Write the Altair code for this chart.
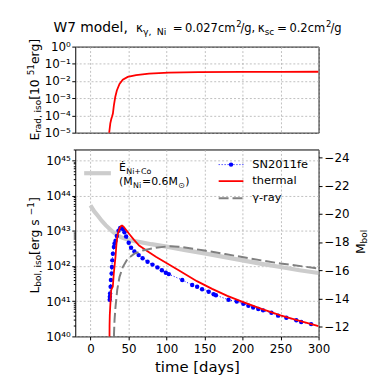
import altair as alt
import pandas as pd

FONT = "DejaVu Sans"

# ---------------- data ----------------
# top panel: radiated energy E_rad,iso [1e51 erg], log10 values
erad_t = [24.4, 24.8, 26.1, 27.4, 28.5, 29.5, 30.8, 32.6, 34.7, 38.2, 42.5, 49, 60, 77, 103, 142, 200, 250, 300]
erad_log = [-6.0, -4.94, -4.46, -4.21, -4.05, -3.89, -3.41, -2.93, -2.55, -2.17, -1.92, -1.76, -1.65, -1.57,
            -1.51, -1.48, -1.47, -1.465, -1.46]

# bottom panel: log10 L [erg/s]
therm_t = [24.9, 25.1, 25.4, 26.0, 27.3, 28.5, 29.4, 30.7, 32.9, 33.9, 34.6, 36.0, 38.0, 40.0, 41.5, 43.5, 47,
           51, 57, 64, 75, 86, 101, 116, 140, 160, 180, 200, 225, 250, 275, 300]
therm_log = [39.0, 40.3, 40.6, 40.85, 41.32, 41.38, 41.41, 41.79, 42.26, 42.54, 42.72, 42.91, 43.05, 43.13,
             43.15, 43.12, 43.02, 42.91, 42.75, 42.58, 42.42, 42.26, 42.07, 41.88, 41.57, 41.35, 41.15, 40.98,
             40.78, 40.60, 40.44, 40.29]

gam_t = [30.5, 31.0, 31.7, 33.0, 35.2, 38.2, 42.5, 49.0, 57.8, 68.6, 86, 103, 116, 150, 177, 208, 250, 300]
gam_log = [39.6, 40.1, 40.48, 40.85, 41.32, 41.69, 41.97, 42.21, 42.35, 42.44, 42.52, 42.56, 42.55, 42.44,
           42.34, 42.22, 42.07, 41.93]

nico_t = [0, 5, 10, 15, 20, 25, 30, 35, 40, 50, 60, 80, 100, 125, 150, 175, 200, 225, 250, 275, 300]
nico_log = [43.72, 43.55, 43.42, 43.28, 43.16, 43.06, 42.96, 42.88, 42.82, 42.74, 42.70, 42.62, 42.55, 42.45,
            42.36, 42.26, 42.16, 42.06, 41.97, 41.88, 41.80]

sn_t = [25.3, 25.5, 25.8, 26.5, 26.9, 27.8, 28.2, 28.7, 29.5, 30.8, 31.7, 33.0, 34.7, 36.9, 39.1, 41.2, 43.0,
        44.7, 46.9, 50.3, 53.4, 57.8, 63.4, 68.6, 75.1, 81.6, 88.1, 93.9, 99.1, 103.0, 120.7, 133.8, 140.3,
        146.8, 155.5, 162.0, 165.0, 181.6, 192.4, 201.0, 207.7, 214.0, 220.7, 227.0, 238.0, 246.8, 257.6,
        270.7, 277.2, 290.2]
sn_log = [41.04, 41.13, 41.22, 41.41, 41.60, 41.79, 41.97, 42.16, 42.35, 42.54, 42.64, 42.72, 42.85, 43.00,
          43.08, 43.08, 43.04, 42.96, 42.84, 42.66, 42.52, 42.41, 42.31, 42.22, 42.12, 42.04, 41.96, 41.88,
          41.81, 41.77, 41.60, 41.46, 41.41, 41.34, 41.27, 41.20, 41.17, 41.04, 40.99, 40.93, 40.87, 40.82,
          40.78, 40.74, 40.67, 40.59, 40.53, 40.46, 40.41, 40.35]

x_ticks = [0, 50, 100, 150, 200, 250, 300]
top_exps = [0, -1, -2, -3, -4, -5]
bot_exps = [40, 41, 42, 43, 44, 45]
mbol_ticks = [-24, -22, -20, -18, -16, -14, -12]

# ---------------- layout constants ----------------
PW, TH, BH = 246, 87, 189
X_DOM = [-20, 300]
LOG_TOP = 45.31
M_SUN, LOG_LSUN = 4.74, 33.585
M_TOP = M_SUN - 2.5 * (LOG_TOP - LOG_LSUN)
M_BOT = M_SUN - 2.5 * (40 - LOG_LSUN)

SUP = str.maketrans("0123456789-", "⁰¹²³⁴⁵⁶⁷⁸⁹⁻")


def pow_expr(exps):
    parts = [f"round(log(datum.value)/LN10)=={e} ? '10{str(e).translate(SUP)}'" for e in exps]
    return " : ".join(parts) + " : ''"


CW = {' ': 0.318, '.': 0.318, ',': 0.318, '=': 0.838, '/': 0.337, '[': 0.390, ']': 0.390, '(': 0.390,
      ')': 0.390, '+': 0.838, '−': 0.838, '-': 0.361, 'a': 0.613, 'b': 0.635, 'c': 0.550, 'd': 0.635,
      'e': 0.615, 'g': 0.635, 'i': 0.278, 'l': 0.278, 'm': 0.974, 'o': 0.612, 'r': 0.411, 's': 0.521,
      't': 0.392, 'y': 0.592, 'h': 0.634, 'f': 0.352, 'E': 0.632, 'Ė': 0.632, 'L': 0.557, 'M': 0.863,
      'N': 0.748, 'C': 0.698, 'W': 0.989, 'S': 0.635, 'κ': 0.59, 'γ': 0.59, '⊙': 0.84}
for _d in "0123456789":
    CW[_d] = 0.636


def tw(s, size):
    return size * sum(CW.get(c, 0.6) for c in s)


DUMMY = pd.DataFrame({"d": [0]})


def seg(text, x, y, size, angle=None, align="left", baseline="alphabetic", color="black"):
    kw = dict(text=text, fontSize=size, font=FONT, align=align, baseline=baseline, color=color)
    if angle is not None:
        kw["angle"] = angle
    return alt.Chart(DUMMY).mark_text(**kw).encode(x=alt.value(x), y=alt.value(y))


def vtitle(parts, base_x, center_y):
    total = sum(tw(t, s) for t, s, _ in parts)
    y = center_y + total / 2
    out = []
    for t, s, sh in parts:
        out.append(seg(t, base_x + sh, y, s, angle=270))
        y -= tw(t, s)
    return out


def hchain(parts, x, base_y):
    out = []
    for t, s, sh, gap in parts:
        x += gap
        out.append(seg(t, x, base_y + sh, s))
        x += tw(t, s)
    return out


# ---------------- top panel ----------------
df_erad = pd.DataFrame({"t": erad_t, "E": [10.0 ** v for v in erad_log]})

xs_top = alt.X("t:Q", scale=alt.Scale(domain=X_DOM, nice=False, zero=False),
               axis=alt.Axis(values=x_ticks, labels=False, ticks=False, domain=False, grid=True, title=None))
ys_top = alt.Y("E:Q", scale=alt.Scale(type="log", domain=[1e-5, 1.0], nice=False),
               axis=alt.Axis(values=[10.0 ** e for e in top_exps], labelExpr=pow_expr(top_exps), title=None,
                             grid=True, domain=False, labelOverlap=False, tickSize=3.5, labelPadding=1.5,
                             labelFontSize=12))

top_line = alt.Chart(df_erad).mark_line(color="#ff0000", strokeWidth=1.8, clip=True).encode(x=xs_top, y=ys_top)

OX, OYT, OYB = 75, 44, 148  # plot origins on the page (for text placement)

title_segs = [
    ("W7 model,", 53, 29.5, 14),
    ("κ", 136.5, 29.5, 12),
    ("γ,", 143.5, 32.5, 9.5),
    ("Ni", 157.5, 32.5, 9.5),
    ("=", 173.5, 29.5, 12),
    ("0.027cm", 186, 29.5, 11.6),
    ("2", 237.8, 24, 8.5),
    ("/g,", 242, 29.5, 11.6),
    ("κ", 259.5, 29.5, 12),
    ("sc", 266.5, 32.5, 9),
    ("=", 279, 29.5, 12),
    ("0.2cm", 291.5, 29.5, 11.6),
    ("2", 328.5, 24, 8.5),
    ("/g", 333, 29.5, 11.6),
]
title_layers = [seg(t, x - OX, y - OYT, s) for t, x, y, s in title_segs]

ytitle_top = vtitle([("E", 12.5, 0), ("rad, iso", 9, 2.5), (" [10", 12.5, 0), ("51", 9, -5), ("erg]", 12.5, 0)],
                    38.3 - OX, 87.5 - OYT)

top = alt.layer(top_line, *title_layers, *ytitle_top).properties(width=PW, height=TH)

# ---------------- bottom panel ----------------
df_therm = pd.DataFrame({"t": therm_t, "L": [10.0 ** v for v in therm_log]})
df_gam = pd.DataFrame({"t": gam_t, "L": [10.0 ** v for v in gam_log]})
df_nico = pd.DataFrame({"t": nico_t, "L": [10.0 ** v for v in nico_log]})
df_sn = pd.DataFrame({"t": sn_t, "L": [10.0 ** v for v in sn_log]})

L_DOM = [1e40, 10.0 ** LOG_TOP]
xb = alt.X("t:Q", scale=alt.Scale(domain=X_DOM, nice=False, zero=False),
           axis=alt.Axis(values=x_ticks, labelFlush=False, title="time [days]", titleFontSize=15,
                         titleFontWeight="normal", titlePadding=5, grid=True, domain=False, tickSize=3.5,
                         labelPadding=4, labelFontSize=12))
yb = alt.Y("L:Q", scale=alt.Scale(type="log", domain=L_DOM, nice=False),
           axis=alt.Axis(values=[10.0 ** e for e in bot_exps], labelExpr=pow_expr(bot_exps), title=None,
                         grid=True, domain=False, labelOverlap=False, tickSize=3.5, labelPadding=1.5,
                         labelFontSize=12))

nico_line = alt.Chart(df_nico).mark_line(color="#cccccc", strokeWidth=4.2, clip=True).encode(x=xb, y=yb)
sn_line = alt.Chart(df_sn).mark_line(color="#0000ff", strokeWidth=1, strokeDash=[1, 2], clip=True).encode(x=xb, y=yb)
sn_pts = alt.Chart(df_sn).mark_circle(color="#0000ff", size=20, opacity=1, clip=True).encode(x=xb, y=yb)
therm_line = alt.Chart(df_therm).mark_line(color="#ff0000", strokeWidth=1.8, clip=True).encode(x=xb, y=yb)
gam_line = alt.Chart(df_gam).mark_line(color="#808080", strokeWidth=2, strokeDash=[10, 4], clip=True).encode(x=xb, y=yb)

data_layer = alt.layer(nico_line, sn_line, sn_pts, therm_line, gam_line)

minor_vals = [k * 10.0 ** n for n in range(40, 45) for k in range(2, 10)] + [2e45]
minor_layer = alt.Chart(pd.DataFrame({"v": L_DOM})).mark_point(opacity=0).encode(
    y=alt.Y("v:Q", scale=alt.Scale(type="log", domain=L_DOM, nice=False),
            axis=alt.Axis(values=minor_vals, labels=False, domain=False, grid=False, tickSize=2,
                          title=None, orient="left", labelOverlap=False)))

mbol_layer = alt.Chart(pd.DataFrame({"m": [M_TOP, M_BOT]})).mark_point(opacity=0).encode(
    y=alt.Y("m:Q", scale=alt.Scale(domain=[M_TOP, M_BOT], reverse=True, nice=False, zero=False),
            axis=alt.Axis(values=mbol_ticks, labelExpr="'−' + abs(datum.value)", title=None, orient="right",
                          grid=False, domain=False, tickSize=3.5, labelPadding=2, labelFontSize=12,
                          labelOverlap=False)))

ytitle_bot = vtitle([("L", 12.5, 0), ("bol, iso", 9, 2.5), (" [erg s", 12.5, 0), ("−1", 9, -5), ("]", 12.5, 0)],
                    38.3 - OX, 245 - OYB)
mtitle = vtitle([("M", 12.5, 0), ("bol", 9, 2.5)], 367.5 - OX, 241.5 - OYB)

# legends (drawn by hand)
leg = []
leg.append(alt.Chart(DUMMY).mark_rule(color="#cccccc", strokeWidth=4.2).encode(
    x=alt.value(84 - OX), x2=alt.value(111 - OX), y=alt.value(172 - OYB)))
leg += hchain([("Ė", 11, 0, 0), ("Ni+Co", 8, 3, 0.3)], 119.3 - OX, 170 - OYB)
leg += hchain([("(M", 11, 0, 0), ("Ni", 8, 3, 0.3), ("=0.6M", 11, 0, 1.0), ("⊙", 8, 3, 0.3), (")", 11, 0, 0.3)],
              119.3 - OX, 184 - OYB)

rows = [163.3, 180.0, 197.3]
leg.append(alt.Chart(DUMMY).mark_rule(color="#0000ff", strokeWidth=1, strokeDash=[1, 2]).encode(
    x=alt.value(220 - OX), x2=alt.value(245 - OX), y=alt.value(rows[0] - OYB)))
leg.append(alt.Chart(DUMMY).mark_circle(color="#0000ff", size=20, opacity=1).encode(
    x=alt.value(232.5 - OX), y=alt.value(rows[0] - OYB)))
leg.append(alt.Chart(DUMMY).mark_rule(color="#ff0000", strokeWidth=1.8).encode(
    x=alt.value(220 - OX), x2=alt.value(245 - OX), y=alt.value(rows[1] - OYB)))
leg.append(alt.Chart(DUMMY).mark_rule(color="#808080", strokeWidth=2, strokeDash=[10, 4]).encode(
    x=alt.value(220 - OX), x2=alt.value(245 - OX), y=alt.value(rows[2] - OYB)))
for lab, ry in zip(["SN2011fe", "thermal", "γ-ray"], rows):
    leg.append(seg(lab, 254 - OX, ry - OYB, 11.5, baseline="middle"))

bottom = alt.layer(data_layer, minor_layer, mbol_layer, *ytitle_bot, *mtitle, *leg).resolve_scale(
    y="independent").properties(width=PW, height=BH)

chart = alt.vconcat(top, bottom, spacing=17, bounds="flush").properties(
    padding={"left": 18, "top": 9, "right": 0, "bottom": 0},
    background="white",
).configure_view(stroke="black", strokeWidth=1).configure_axis(
    labelFont=FONT, titleFont=FONT, labelColor="black", titleColor="black", tickColor="black",
    gridColor="#b0b0b0", gridDash=[2, 2], gridWidth=0.8, tickWidth=1,
)

chart.save("out.html", embed_options={"renderer": "svg", "actions": False})
